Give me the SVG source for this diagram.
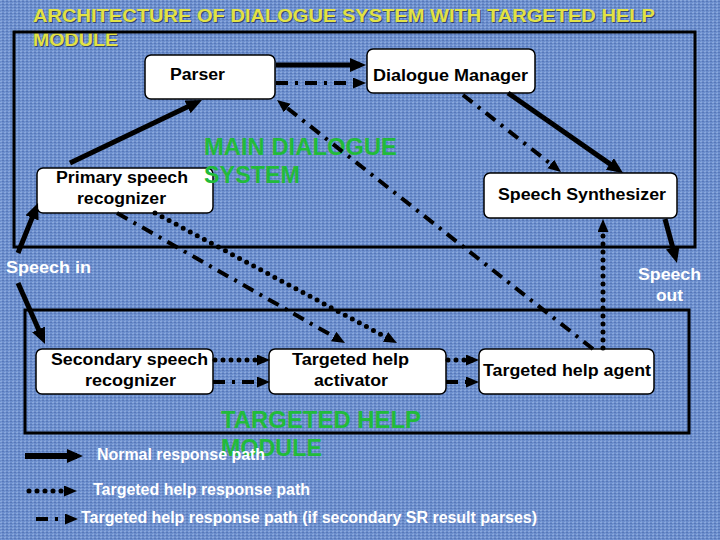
<svg xmlns="http://www.w3.org/2000/svg" width="720" height="540" viewBox="0 0 720 540">
  <defs>
    <pattern id="tex" width="4" height="3" patternUnits="userSpaceOnUse">
      <rect width="4" height="3" fill="#6b8ecd"/>
      <rect x="0" y="0" width="2" height="1" fill="#8aa8dc"/>
      <rect x="2" y="1" width="2" height="1" fill="#5878b8"/>
      <rect x="1" y="2" width="1" height="1" fill="#7e9dd6"/>
    </pattern>
    <marker id="big" markerUnits="userSpaceOnUse" markerWidth="17" markerHeight="15" refX="10" refY="7" orient="auto">
      <path d="M0,0 L16,7 L0,14 Z" fill="#000"/>
    </marker>
    <marker id="small" markerUnits="userSpaceOnUse" markerWidth="14" markerHeight="12" refX="7" refY="5.5" orient="auto">
      <path d="M0,0 L13,5.5 L0,11 Z" fill="#000"/>
    </marker>
  </defs>
  <style>
    .frame { fill: none; stroke: #000; stroke-width: 3; }
    .node rect { fill: #fff; stroke: #000; stroke-width: 1.5; }
    .lbl { font-family: "Liberation Sans", Arial, sans-serif; font-weight: bold; font-size: 16px; fill: #000; }
    .wt { font-family: "Liberation Sans", Arial, sans-serif; font-weight: bold; font-size: 16px; fill: #fff; }
    .grn { font-family: "Liberation Sans", Arial, sans-serif; font-weight: bold; font-size: 23px; fill: #22bb3a; }
    .ttl { font-family: "Liberation Sans", Arial, sans-serif; font-weight: bold; font-size: 18px; fill: #e2e244; }
    .shd { font-family: "Liberation Sans", Arial, sans-serif; font-weight: bold; font-size: 18px; fill: #33456e; }
    .solid { fill: none; stroke: #000; stroke-width: 5; marker-end: url(#big); }
    .dot { fill: none; stroke: #000; stroke-width: 5; stroke-dasharray: 0 8; stroke-linecap: round; marker-end: url(#small); }
    .dd { fill: none; stroke: #000; stroke-width: 4; stroke-dasharray: 12 7 3 7; marker-end: url(#small); }
  </style>

  <rect width="720" height="540" fill="url(#tex)"/>

  <!-- Title -->
  <g id="title">
    <text class="shd" x="34" y="23" textLength="622" lengthAdjust="spacingAndGlyphs">ARCHITECTURE OF DIALOGUE SYSTEM WITH TARGETED HELP</text>
    <text class="ttl" x="33" y="22" textLength="622" lengthAdjust="spacingAndGlyphs">ARCHITECTURE OF DIALOGUE SYSTEM WITH TARGETED HELP</text>
    <text class="shd" x="34" y="47" textLength="85" lengthAdjust="spacingAndGlyphs">MODULE</text>
    <text class="ttl" x="33" y="46" textLength="85" lengthAdjust="spacingAndGlyphs">MODULE</text>
  </g>

  <!-- Module frames -->
  <g id="main-system-frame">
    <rect class="frame" x="14" y="32" width="681" height="215"/>
  </g>
  <g id="targeted-help-module-frame">
    <rect class="frame" x="25" y="310" width="664" height="123"/>
  </g>

  <!-- Nodes -->
  <g id="parser" class="node">
    <rect x="145" y="55" width="130" height="44" rx="6"/>
    <text class="lbl" x="170" y="80" textLength="55" lengthAdjust="spacingAndGlyphs">Parser</text>
  </g>
  <g id="dialogue-manager" class="node">
    <rect x="367" y="49" width="168" height="44" rx="6"/>
    <text class="lbl" x="373" y="81" textLength="155" lengthAdjust="spacingAndGlyphs">Dialogue Manager</text>
  </g>
  <g id="primary-sr" class="node">
    <rect x="37" y="168" width="176" height="45" rx="6"/>
    <text class="lbl" x="56" y="183" textLength="132" lengthAdjust="spacingAndGlyphs">Primary speech</text>
    <text class="lbl" x="77" y="204" textLength="89" lengthAdjust="spacingAndGlyphs">recognizer</text>
  </g>
  <g id="speech-synthesizer" class="node">
    <rect x="484" y="173" width="193" height="45" rx="6"/>
    <text class="lbl" x="498" y="200" textLength="168" lengthAdjust="spacingAndGlyphs">Speech Synthesizer</text>
  </g>
  <g id="secondary-sr" class="node">
    <rect x="36" y="349" width="177" height="45" rx="6"/>
    <text class="lbl" x="51" y="365" textLength="157" lengthAdjust="spacingAndGlyphs">Secondary speech</text>
    <text class="lbl" x="85" y="386" textLength="91" lengthAdjust="spacingAndGlyphs">recognizer</text>
  </g>
  <g id="th-activator" class="node">
    <rect x="269" y="349" width="177" height="45" rx="6"/>
    <text class="lbl" x="292" y="365" textLength="117" lengthAdjust="spacingAndGlyphs">Targeted help</text>
    <text class="lbl" x="314" y="386" textLength="74" lengthAdjust="spacingAndGlyphs">activator</text>
  </g>
  <g id="th-agent" class="node">
    <rect x="479" y="349" width="175" height="45" rx="6"/>
    <text class="lbl" x="483" y="376" textLength="168" lengthAdjust="spacingAndGlyphs">Targeted help agent</text>
  </g>

  <!-- Module titles -->
  <g id="main-system-label">
    <text class="grn" x="204" y="155" textLength="193" lengthAdjust="spacingAndGlyphs">MAIN DIALOGUE</text>
    <text class="grn" x="204" y="183" textLength="96" lengthAdjust="spacingAndGlyphs">SYSTEM</text>
  </g>
  <g id="targeted-help-module-label">
    <text class="grn" x="221" y="428" textLength="200" lengthAdjust="spacingAndGlyphs">TARGETED HELP</text>
    <text class="grn" x="221" y="456" textLength="101" lengthAdjust="spacingAndGlyphs">MODULE</text>
  </g>

  <!-- Connectors -->
  <g id="connectors">
    <line class="solid" x1="276" y1="65" x2="360" y2="65"/>
    <line class="dd" x1="276" y1="83" x2="360" y2="83"/>
    <line class="solid" x1="70" y1="163" x2="196.6" y2="102.6"/>
    <line class="solid" x1="18" y1="253" x2="35.8" y2="208.6"/>
    <line class="solid" x1="508" y1="93" x2="618.1" y2="169.6"/>
    <line class="dd" x1="463" y1="95" x2="556.3" y2="168.3"/>
    <line class="solid" x1="665" y1="219" x2="675.4" y2="257.2"/>
    <line class="solid" x1="18" y1="283" x2="42.6" y2="338.5"/>
    <line class="dot" x1="155" y1="213" x2="391.7" y2="340.2"/>
    <line class="dd" x1="117" y1="213" x2="339.8" y2="340"/>
    <line class="dd" x1="593" y1="349" x2="281.7" y2="103.7"/>
    <line class="dot" x1="215" y1="360" x2="264" y2="360"/>
    <line class="dd" x1="213" y1="382" x2="264" y2="382"/>
    <line class="dot" x1="448" y1="360" x2="473" y2="360"/>
    <line class="dd" x1="446" y1="382" x2="473" y2="382"/>
    <line class="dot" x1="603" y1="348" x2="603" y2="225"/>
  </g>

  <!-- Terminal labels -->
  <g id="speech-in">
    <text class="wt" x="6" y="273" textLength="85" lengthAdjust="spacingAndGlyphs">Speech in</text>
  </g>
  <g id="speech-out">
    <text class="wt" x="638" y="280" textLength="63" lengthAdjust="spacingAndGlyphs">Speech</text>
    <text class="wt" x="656" y="301" textLength="27" lengthAdjust="spacingAndGlyphs">out</text>
  </g>

  <!-- Legend -->
  <g id="legend">
    <line class="solid" x1="25" y1="456" x2="77" y2="456" style="stroke-width:6"/>
    <text class="wt" x="97" y="460" textLength="168" lengthAdjust="spacingAndGlyphs">Normal response path</text>
    <line class="dot" x1="29" y1="491" x2="71" y2="491"/>
    <text class="wt" x="93" y="495" textLength="217" lengthAdjust="spacingAndGlyphs">Targeted help response path</text>
    <line class="dd" x1="36" y1="519" x2="72" y2="519"/>
    <text class="wt" x="81" y="523" textLength="456" lengthAdjust="spacingAndGlyphs">Targeted help response path (if secondary SR result parses)</text>
  </g>
</svg>
